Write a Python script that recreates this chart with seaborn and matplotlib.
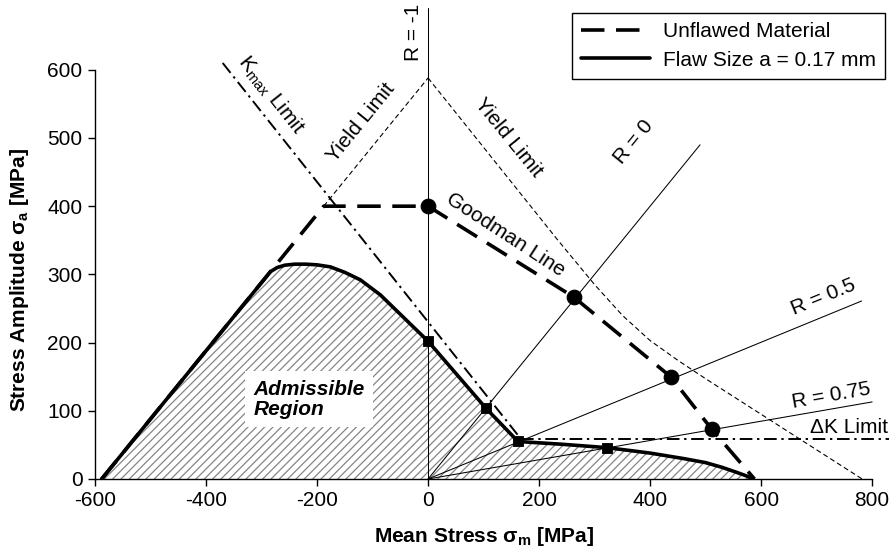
import matplotlib
matplotlib.use("Agg")
import matplotlib.pyplot as plt
from matplotlib.lines import Line2D
import seaborn as sns

# ---- chart data (MPa) ----
# unflawed material limit (yield branch, plateau, Goodman line)
unflawed_x = [-588, -188, 0, 262, 437, 511, 588]
unflawed_y = [0, 400, 400, 267, 150, 73, 0]
unflawed_pts_x = [0, 262, 437, 511]
unflawed_pts_y = [400, 267, 150, 73]

# flawed material limit, flaw size a = 0.17 mm
flaw_x = [-588, -284, -272, -258, -240, -220, -200, -176, -150, -122, -86, 0,
          104, 162, 240, 322, 400, 460, 500, 530, 555, 572, 586]
flaw_y = [0, 304, 310, 313.5, 315, 315, 314, 311, 303, 292, 270, 202,
          104, 55, 51, 46, 38, 30, 24, 17, 10, 5, 0]
flaw_pts_x = [0, 104, 162, 322]
flaw_pts_y = [202, 104, 55, 46]

# yield limits
yield_left_x = [-188, 0]
yield_left_y = [400, 588]
yield_right_x = [0, 232, 300, 350, 400, 450, 500, 782]
yield_right_y = [588, 352, 285, 240, 203, 174, 147, 0]

# fracture mechanics limits
kmax_x = [-370, 168]
kmax_y = [610, 58]
dk_x = [168, 830]
dk_y = [58, 58]

# constant stress ratio rays
r_m1_x, r_m1_y = [0, 0], [0, 690]
r_0_x, r_0_y = [0, 490], [0, 490]
r_05_x, r_05_y = [0, 781], [0, 261]
r_075_x, r_075_y = [0, 800], [0, 113]

x_ticks = [-600, -400, -200, 0, 200, 400, 600, 800]
y_ticks = [0, 100, 200, 300, 400, 500, 600]

# ---- style ----
sns.set_theme(style="ticks")
plt.rcParams["font.family"] = ["Liberation Sans", "DejaVu Sans"]
plt.rcParams["mathtext.fontset"] = "custom"
plt.rcParams["mathtext.rm"] = "Liberation Sans"
plt.rcParams["mathtext.it"] = "Liberation Sans:italic"
plt.rcParams["mathtext.bf"] = "Liberation Sans:bold"
plt.rcParams["axes.unicode_minus"] = False
plt.rcParams["hatch.linewidth"] = 0.9
for key in ["text.color", "axes.labelcolor", "xtick.color", "ytick.color",
            "axes.edgecolor"]:
    plt.rcParams[key] = "black"

FS = 15
fig = plt.figure(figsize=(8.93, 5.55), dpi=100)
ax = fig.add_axes([95 / 893, 76 / 555, 793.8 / 893, 470.6 / 555])
ax.set_xlim(-600, 830)
ax.set_ylim(0, 690)

# admissible region
ax.fill_between(flaw_x, flaw_y, 0, facecolor="white", edgecolor="#858585",
                hatch="////", linewidth=0, zorder=1)

thin = dict(color="black", linewidth=0.75, zorder=2)
for xs, ys in [(r_m1_x, r_m1_y), (r_0_x, r_0_y), (r_05_x, r_05_y), (r_075_x, r_075_y)]:
    sns.lineplot(x=xs, y=ys, ax=ax, sort=False, estimator=None, **thin)

ydash = dict(color="black", linewidth=0.8, linestyle=(0, (4.5, 2.8)), zorder=2)
sns.lineplot(x=yield_left_x, y=yield_left_y, ax=ax, sort=False, estimator=None, **ydash)
sns.lineplot(x=yield_right_x, y=yield_right_y, ax=ax, sort=False, estimator=None, **ydash)

dd = dict(color="black", linewidth=1.4, linestyle=(0, (6.5, 2.4, 1.2, 2.4)), zorder=3)
sns.lineplot(x=kmax_x, y=kmax_y, ax=ax, sort=False, estimator=None, **dd)
sns.lineplot(x=dk_x, y=dk_y, ax=ax, sort=False, estimator=None, **dd)

sns.lineplot(x=unflawed_x, y=unflawed_y, ax=ax, sort=False, estimator=None,
             color="black", linewidth=2.6, linestyle=(0, (6.5, 3.2)), zorder=4)
sns.lineplot(x=flaw_x, y=flaw_y, ax=ax, sort=False, estimator=None,
             color="black", linewidth=2.6, zorder=5)

sns.scatterplot(x=unflawed_pts_x, y=unflawed_pts_y, ax=ax, marker="o", s=110,
                color="black", edgecolor="black", zorder=6)
sns.scatterplot(x=flaw_pts_x, y=flaw_pts_y, ax=ax, marker="s", s=60,
                color="black", edgecolor="black", zorder=6)

# ---- annotations ----
ax.text(-26, 655, "R = -1", rotation=90, ha="center", va="center", fontsize=FS)
ax.text(-284, 563, r"K$_\mathregular{max}$ Limit", rotation=-51.7, ha="center",
        va="center", fontsize=FS, rotation_mode="anchor")
ax.text(-120, 523, "Yield Limit", rotation=50.8, ha="center", va="center",
        fontsize=FS, rotation_mode="anchor")
ax.text(145, 500, "Yield Limit", rotation=-50.8, ha="center", va="center",
        fontsize=FS, rotation_mode="anchor")
ax.text(139, 358, "Goodman Line", rotation=-33, ha="center", va="center",
        fontsize=FS, rotation_mode="anchor")
ax.text(370, 494, "R = 0", rotation=50.8, ha="center", va="center",
        fontsize=FS, rotation_mode="anchor")
ax.text(712, 267, "R = 0.5", rotation=22.3, ha="center", va="center",
        fontsize=FS, rotation_mode="anchor")
ax.text(726, 122, "R = 0.75", rotation=10, ha="center", va="center",
        fontsize=FS, rotation_mode="anchor")
ax.text(829, 75, "ΔK Limit", ha="right", va="center", fontsize=FS)
ax.text(-314, 117, "Admissible\nRegion", ha="left", va="center", fontsize=FS,
        fontweight="bold", fontstyle="italic", linespacing=1.05, zorder=7,
        bbox=dict(boxstyle="square,pad=0.4", facecolor="white", edgecolor="none"))

# ---- axes ----
ax.set_xticks(x_ticks)
ax.set_yticks(y_ticks)
ax.set_xticklabels([str(v) for v in x_ticks])
ax.set_yticklabels([str(v) for v in y_ticks])
ax.tick_params(axis="both", labelsize=FS, length=5, width=1, color="black",
               labelcolor="black", direction="out", pad=4)
for side in ["top", "right"]:
    ax.spines[side].set_visible(False)
for side in ["left", "bottom"]:
    ax.spines[side].set_color("black")
    ax.spines[side].set_linewidth(1)
ax.spines["left"].set_bounds(0, 600)
ax.spines["bottom"].set_bounds(-600, 800)

ax.set_xlabel(r"Mean Stress σ$_\mathbf{m}$ [MPa]", fontsize=FS, fontweight="bold")
ax.set_ylabel(r"Stress Amplitude σ$_\mathbf{a}$ [MPa]", fontsize=FS, fontweight="bold")
ax.xaxis.label.set_va("center")
ax.yaxis.label.set_va("center")
ax.xaxis.set_label_coords(0.49, -0.123)
ax.yaxis.set_label_coords(-0.095, 0.423)

handles = [
    Line2D([], [], color="black", linewidth=2.6, linestyle=(0, (6.5, 3.2))),
    Line2D([], [], color="black", linewidth=2.6),
]
leg = fig.legend(handles, ["Unflawed Material", "Flaw Size a = 0.17 mm"],
                 loc="upper right", bbox_to_anchor=(885 / 893, 1 - 13 / 555),
                 fontsize=FS, frameon=True, fancybox=False, shadow=False,
                 borderaxespad=0, handlelength=3.3, handletextpad=0.6,
                 borderpad=0.45, labelspacing=0.45)
leg.get_frame().set_edgecolor("black")
leg.get_frame().set_linewidth(1)
leg.get_frame().set_alpha(1)

fig.savefig("out.png", dpi=100)
